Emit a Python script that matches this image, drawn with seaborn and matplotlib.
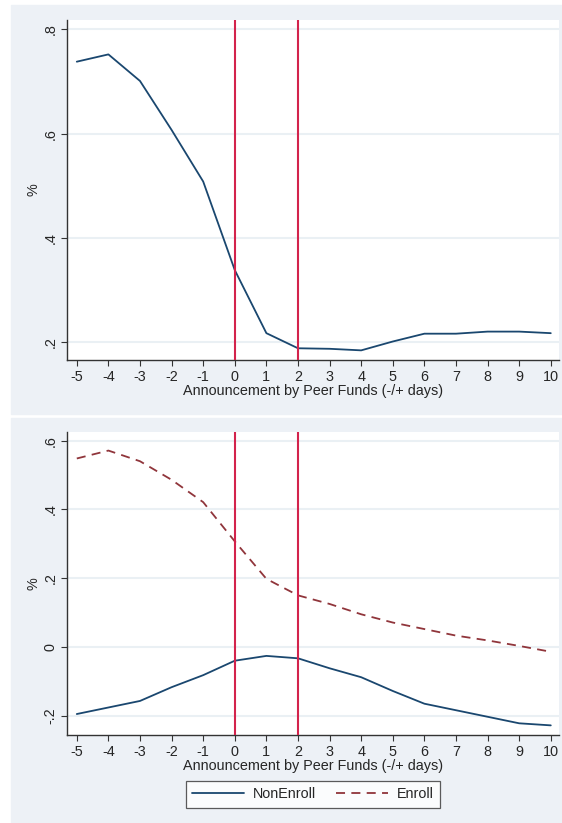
import numpy as np
import pandas as pd
import matplotlib
matplotlib.use("Agg")
import matplotlib.pyplot as plt
import seaborn as sns
from matplotlib.patches import Rectangle

# event days relative to the announcement
days = list(range(-5, 11))

# top panel: all funds
overall = [0.738, 0.752, 0.701, 0.607, 0.508, 0.338, 0.217, 0.188,
           0.187, 0.184, 0.201, 0.216, 0.216, 0.220, 0.220, 0.217]

# bottom panel: split by enrollment
non_enroll = [-0.195, -0.176, -0.157, -0.117, -0.082, -0.040, -0.026, -0.033,
              -0.062, -0.088, -0.128, -0.165, -0.184, -0.203, -0.222, -0.228]
enroll = [0.548, 0.571, 0.540, 0.486, 0.421, 0.307, 0.198, 0.150,
          0.125, 0.095, 0.071, 0.052, 0.033, 0.019, 0.003, -0.014]

event_lines = [0, 2]
xticks = days
top_yticks = [0.2, 0.4, 0.6, 0.8]
top_ylabels = [".2", ".4", ".6", ".8"]
bot_yticks = [-0.2, 0.0, 0.2, 0.4, 0.6]
bot_ylabels = ["-.2", "0", ".2", ".4", ".6"]
xlabel = "Announcement by Peer Funds (-/+ days)"
ylabel = "%"

navy = "#1A476F"
maroon = "#90353B"
red = "#D3234C"
bg = "#EDF1F6"
grid_c = "#EAF0F4"
fs = 10.4

sns.set_style("ticks")
plt.rcParams['font.family'] = ['Liberation Sans', 'DejaVu Sans']

W, H = 562, 823
fig = plt.figure(figsize=(W / 100, H / 100), dpi=100)
fig.patch.set_facecolor("white")

# Stata-like graph regions
fig.patches.append(Rectangle((11 / W, 1 - 414 / H), (W - 11) / W, 409 / H,
                             transform=fig.transFigure, color=bg, zorder=-10))
fig.patches.append(Rectangle((11 / W, 0), (W - 11) / W, 1 - 418 / H,
                             transform=fig.transFigure, color=bg, zorder=-10))


def fig_axes(x0, y0, x1, y1):
    return fig.add_axes([x0 / W, 1 - y1 / H, (x1 - x0) / W, (y1 - y0) / H])


ax1 = fig_axes(67, 20, 559, 360)
ax2 = fig_axes(67, 432, 559, 735)

df_top = pd.DataFrame({"day": days, "value": overall})
sns.lineplot(data=df_top, x="day", y="value", ax=ax1, color=navy, linewidth=1.3)

df_bot = pd.DataFrame({
    "day": days * 2,
    "value": non_enroll + enroll,
    "group": ["NonEnroll"] * len(days) + ["Enroll"] * len(days),
})
sns.lineplot(data=df_bot, x="day", y="value", hue="group", style="group",
             palette={"NonEnroll": navy, "Enroll": maroon},
             dashes={"NonEnroll": "", "Enroll": (5, 3.5)},
             ax=ax2, linewidth=1.3, legend=False)


def style_axis(ax, yticks, ylabels, ylim):
    ax.set_facecolor("white")
    for v in event_lines:
        ax.axvline(v, color=red, linewidth=1.5, zorder=3)
    for t in yticks:
        ax.axhline(t, color=grid_c, linewidth=1.5, zorder=0)
    ax.set_xlim(-5.31, 10.26)
    ax.set_ylim(*ylim)
    ax.set_xticks(xticks)
    ax.set_xticklabels([str(d) for d in xticks], fontsize=fs)
    ax.set_yticks(yticks)
    ax.set_yticklabels(ylabels, fontsize=fs, rotation=90, va="center")
    ax.set_xlabel(xlabel, fontsize=fs, labelpad=0)
    ax.set_ylabel(ylabel, fontsize=fs, labelpad=2)
    for s in ["top", "right"]:
        ax.spines[s].set_visible(False)
    for s in ["left", "bottom"]:
        ax.spines[s].set_color("#333333")
        ax.spines[s].set_linewidth(1.0)
    ax.tick_params(axis="both", length=4, width=0.8, color="#333333", pad=3)


style_axis(ax1, top_yticks, top_ylabels, (0.1655, 0.818))
style_axis(ax2, bot_yticks, bot_ylabels, (-0.256, 0.625))

handles = [plt.Line2D([], [], color=navy, linewidth=1.3),
           plt.Line2D([], [], color=maroon, linewidth=1.3, dashes=(5, 3.5))]
leg = fig.legend(handles, ["NonEnroll", "Enroll"], loc="center",
                 bbox_to_anchor=(313 / W, 1 - 794.5 / H), ncol=2, fontsize=fs,
                 frameon=True, fancybox=False, handlelength=3.6,
                 handletextpad=0.6, columnspacing=1.4, borderpad=0.45)
leg.get_frame().set_edgecolor("#333333")
leg.get_frame().set_linewidth(0.9)

fig.savefig("out.png", dpi=100, facecolor="white")
